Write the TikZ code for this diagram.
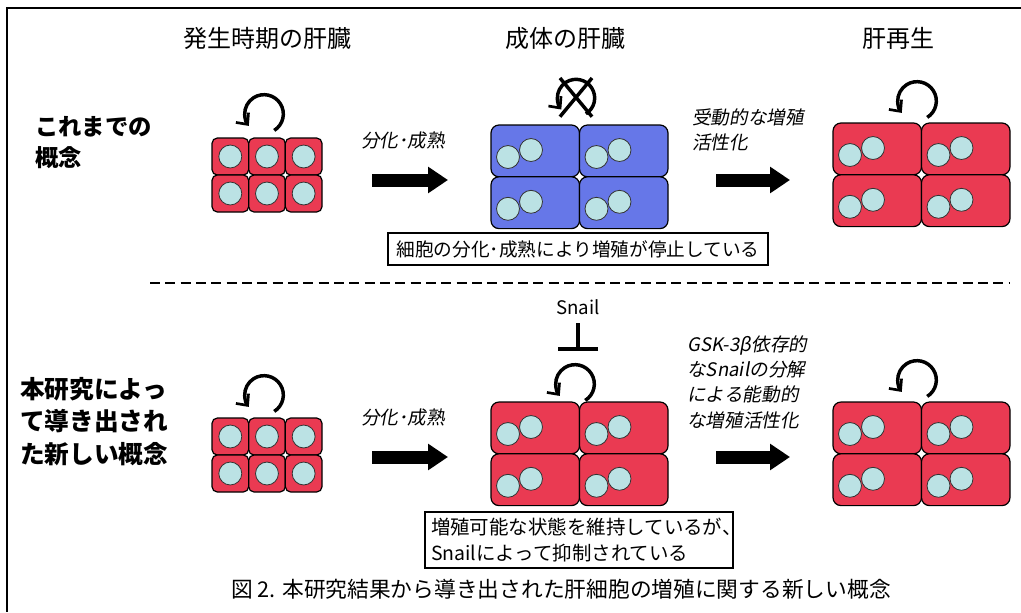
\documentclass[tikz,border=0pt]{standalone}
\usepackage{fontspec}
\setmainfont{Noto Sans CJK JP}
\newfontfamily\slantcjk[FakeSlant=0.18]{Noto Sans CJK JP}
\usetikzlibrary{arrows.meta}
\definecolor{liverred}{RGB}{234,58,82}
\definecolor{adultblue}{RGB}{102,119,232}
\definecolor{nucfill}{RGB}{187,226,228}
\tikzset{
  frame/.style={line width=1.9pt},
  smallcell/.style={draw=black, line width=0.9pt, fill=liverred, rounded corners=4pt},
  bigred/.style={draw=black, line width=0.9pt, fill=liverred, rounded corners=6pt},
  bigblue/.style={draw=black, line width=0.9pt, fill=adultblue, rounded corners=6pt},
  nucleus/.style={draw=black!80, line width=0.6pt, fill=nucfill},
  cyc/.style={line width=2.6pt, -{Straight Barb[length=6.5pt,width=12pt,line width=2pt]}},
  blockarrow/.style={line width=9.75pt, -{Triangle[length=15pt,width=19pt]}},
  coltitle/.style={font=\fontsize{18}{21}\selectfont},
  rowtitle/.style={font=\bfseries\fontsize{17.5}{23}\selectfont, align=left, anchor=north west, inner sep=0pt},
  rowtitlelong/.style={font=\bfseries\fontsize{18.5}{24.4}\selectfont, align=left, anchor=north west, inner sep=0pt},
  steplabel/.style={font=\slantcjk\fontsize{14}{19}\selectfont, align=left, anchor=north west, inner sep=0pt},
  notebox/.style={draw=black, line width=0.9pt, inner sep=0pt},
  pics/smallliver/.style={code={
    \foreach \i in {0,1,2} \foreach \j in {0,1} {
      \draw[smallcell] (\i*36.67,\j*37) rectangle ++(36.67,37);
      \draw[nucleus] (\i*36.67+18.3,\j*37+18.5) circle[radius=8.6pt];
    }
  }},
  pics/bigliver/.style={code={
    \foreach \i in {0,1} \foreach \j in {0,1} {
      \draw[#1] (\i*88.5,\j*51.8) rectangle ++(88.5,51.8);
      \draw[nucleus] (\i*88.5+40,\j*51.8+25) circle[radius=8.6pt];
      \draw[nucleus] (\i*88.5+17,\j*51.8+32) circle[radius=8.6pt];
    }
  }},
  pics/cycle/.style={code={
    \draw[cyc] (-58:14.5pt) arc[start angle=-58, end angle=218, radius=14.5pt];
  }},
  pics/stopcycle/.style={code={
    \draw[cyc] (-58:14pt) arc[start angle=-58, end angle=218, radius=14pt];
    \draw[line width=2.6pt] (-12pt,15pt) -- (12pt,-14pt);
    \draw[line width=2.6pt] (12pt,15pt) -- (-12pt,-14pt);
  }},
}
\begin{document}
\begin{tikzpicture}[x=0.75pt, y=-0.75pt]
  \useasboundingbox (0,0) rectangle (1021,612);

  % open frame: top and left edges
  \draw[frame] (6,8) -- (1021,8);
  \draw[frame] (7,8) -- (7,612);

  % column headings
  \node[coltitle] (hdev)   at (267,38) {発生時期の肝臓};
  \node[coltitle] (hadult) at (565,38) {成体の肝臓};
  \node[coltitle] (hregen) at (898,38) {肝再生};

  % row headings
  \node[rowtitle] (rowold) at (35,116) {これまでの\\概念};
  \node[rowtitlelong] (rownew) at (20,377) {本研究によっ\\て導き出され\\た新しい概念};

  % separator between the two concepts
  \draw[line width=1.9pt, dash pattern=on 7.5pt off 4pt] (150,283) -- (1010,283);

  % ---------- upper row: conventional concept ----------
  \pic at (212,138) {smallliver};
  \pic at (264,114) {cycle};
  \pic at (491,125) {bigliver=bigblue};
  \pic at (576,98) {stopcycle};
  \pic at (833,123) {bigliver=bigred};
  \pic at (917,101) {cycle};

  \node[steplabel] (lab1) at (361,132) {分化･成熟};
  \coordinate (a1s) at (372,180);
  \coordinate (a1e) at (448,180);
  \draw[blockarrow] (a1s) -- (a1e);

  \node[steplabel] (lab2) at (692,108) {受動的な増殖\\活性化};
  \coordinate (a2s) at (716,180);
  \coordinate (a2e) at (790,180);
  \draw[blockarrow] (a2s) -- (a2e);

  \node[notebox, minimum width=285pt, minimum height=24pt, font=\fontsize{14}{19.5}\selectfont] (note1) at (578,249)
    {細胞の分化･成熟により増殖が停止している};

  % ---------- lower row: new concept ----------
  \pic at (212,418) {smallliver};
  \pic at (264,395) {cycle};
  \pic at (491,402) {bigliver=bigred};
  \pic at (575,384) {cycle};
  \pic at (833,402) {bigliver=bigred};
  \pic at (917,380) {cycle};

  \node[font=\fontsize{14}{16}\selectfont] (snail) at (578,307) {Snail};
  \coordinate (tbar) at (578,351);
  \draw[line width=3pt, -{Bar[width=30pt,line width=3pt]}, shorten <=3pt] (snail.south) -- (tbar);

  \node[steplabel] (lab3) at (361,409) {分化･成熟};
  \coordinate (a3s) at (372,457);
  \coordinate (a3e) at (448,457);
  \draw[blockarrow] (a3s) -- (a3e);

  \node[steplabel] (lab4) at (687,335) {GSK-3β依存的\\なSnailの分解\\による能動的\\な増殖活性化};
  \coordinate (a4s) at (716,457);
  \coordinate (a4e) at (790,457);
  \draw[blockarrow] (a4s) -- (a4e);

  \node[notebox, minimum width=231pt, minimum height=42pt, align=left, text width=222pt,
        font=\fontsize{14.6}{19.5}\selectfont] (note2) at (579,540)
    {増殖可能な状態を維持しているが、\\Snailによって抑制されている};

  % figure caption
  \node[font=\fontsize{16.3}{19}\selectfont] (caption) at (561,589)
    {図 2. 本研究結果から導き出された肝細胞の増殖に関する新しい概念};
\end{tikzpicture}
\end{document}
